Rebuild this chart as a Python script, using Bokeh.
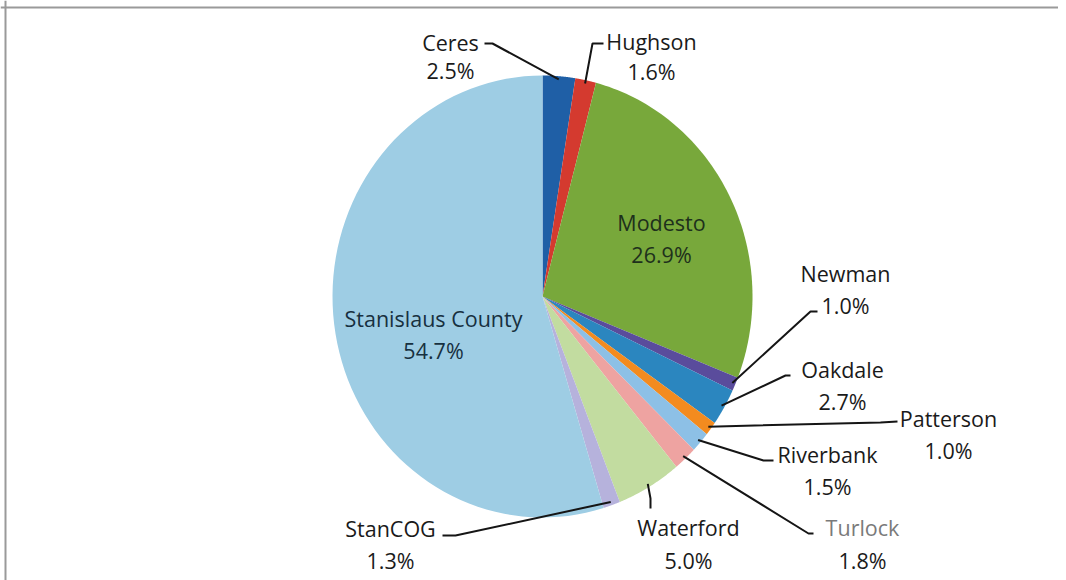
import numpy as np
from bokeh.plotting import figure
from bokeh.models import Range1d, ColumnDataSource, Span
from bokeh.core.properties import value
from bokeh.embed import file_html
from bokeh.resources import INLINE

# ---- data ----
names = ["Ceres", "Hughson", "Modesto", "Newman", "Oakdale", "Patterson",
         "Riverbank", "Turlock", "Waterford", "StanCOG", "Stanislaus County"]
shares = [2.5, 1.6, 26.9, 1.0, 2.7, 1.0, 1.5, 1.8, 5.0, 1.3, 54.7]
colors = ["#1f5fa6", "#d43a2f", "#78a83b", "#5a4c9c", "#2b86bf", "#f38b1f",
          "#8dc0e6", "#eea3a1", "#c2dca0", "#b6b2dc", "#9ecde4"]

# ---- layout (image pixels) ----
W, H = 1058, 580
def X(px): return px
def Y(py): return H - py

CX, CY = X(542), Y(296)
RX, RY = 210, 221

label_pos = {  # name: (center x, name y, pct y)
    "Ceres": (450, 42, 70),
    "Hughson": (651, 41, 71),
    "Modesto": (661, 222, 254),
    "Newman": (845, 273, 305),
    "Oakdale": (842, 369, 401),
    "Patterson": (948, 418, 450),
    "Riverbank": (827, 454, 486),
    "Turlock": (862, 527, 560),
    "Waterford": (688, 527, 560),
    "StanCOG": (390, 528, 560),
    "Stanislaus County": (433, 318, 350),
}
leaders = {  # name: (start point, elbow point) in image px
    "Ceres": ((484, 43), (492, 43)),
    "Hughson": ((603, 43), (592, 43)),
    "Newman": ((817, 311), (810, 311)),
    "Oakdale": ((790, 375), (785, 375)),
    "Patterson": ((897, 421), (880, 422)),
    "Riverbank": ((773, 460), (763, 460)),
    "Turlock": ((813, 533), (808, 533)),
    "Waterford": ((650, 508), (650, 498)),
    "StanCOG": ((442, 535), (455, 535)),
}
inside = {"Modesto": "#1e301c", "Stanislaus County": "#17303f"}
text_colors = {"Turlock": "#7a7a7a"}

p = figure(width=W, height=H, output_backend="svg", toolbar_location=None,
           x_range=Range1d(0, W), y_range=Range1d(0, H), min_border=0,
           tools="")
p.axis.visible = False
p.grid.visible = False
p.outline_line_color = None
p.background_fill_color = "white"
p.add_layout(Span(location=X(5), dimension="height", line_color="#9a9a9a", line_width=2))
p.add_layout(Span(location=Y(7), dimension="width", line_color="#9a9a9a", line_width=2))

frac = np.array(shares) / sum(shares)
cum = np.concatenate([[0], np.cumsum(frac)])
xs, ys = [], []
for i in range(len(shares)):
    th = np.linspace(cum[i], cum[i + 1], 80) * 2 * np.pi
    xs.append(list(np.concatenate([[CX], CX + RX * np.sin(th)])))
    ys.append(list(np.concatenate([[CY], CY + RY * np.cos(th)])))
p.patches(xs, ys, fill_color=colors, line_color=None)

# leader lines
lx, ly = [], []
for i, n in enumerate(names):
    if n not in leaders:
        continue
    mid = (cum[i] + cum[i + 1]) / 2 * 2 * np.pi
    ex = CX + RX * 0.985 * np.sin(mid)
    ey = CY + RY * 0.985 * np.cos(mid)
    (sx, sy), (bx, by) = leaders[n]
    lx.append([X(sx), X(bx), ex])
    ly.append([Y(sy), Y(by), ey])
p.multi_line(lx, ly, line_color="#151515", line_width=2)

# labels
tx, ty, tt, tc = [], [], [], []
for n, s in zip(names, shares):
    cx, ny, py = label_pos[n]
    col = inside.get(n, text_colors.get(n, "#1a1a1a"))
    tx += [X(cx), X(cx)]
    ty += [Y(ny), Y(py)]
    tt += [n, f"{s:.1f}%"]
    tc += [col, "#1a1a1a" if n == "Turlock" else col]
src = ColumnDataSource(dict(x=tx, y=ty, t=tt, c=tc))
p.text("x", "y", text="t", source=src, text_color="c",
       text_font=value("Open Sans"), text_font_size="21.5px",
       text_align="center", text_baseline="middle")

open("out.html", "w").write(file_html(p, INLINE))
